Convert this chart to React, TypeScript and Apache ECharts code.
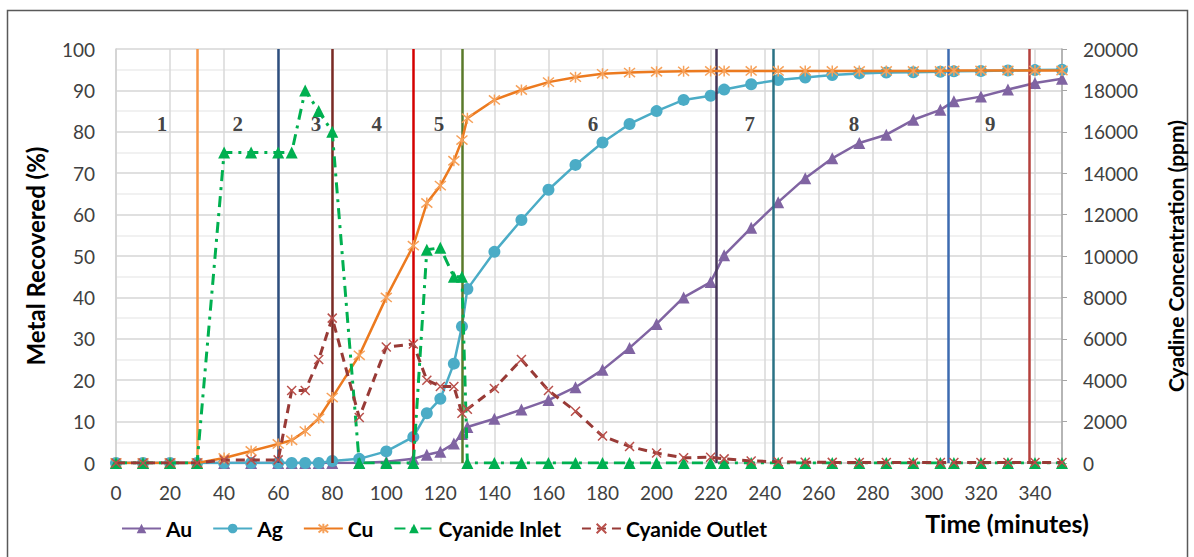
import React, { useEffect, useRef } from "react";
import * as echarts from "echarts";

// Time (minutes)
const time = [0, 10, 20, 30, 40, 50, 60, 65, 70, 75, 80, 90, 100, 110, 115, 120, 125, 128, 130, 140, 150, 160, 170, 180, 190, 200, 210, 220, 225, 235, 245, 255, 265, 275, 285, 295, 305, 310, 320, 330, 340, 350];

// Metal recovered (%)
const au = [0, 0, 0, 0, 0, 0, 0, 0, 0, 0, 0, 0, 0.3, 1, 2, 2.7, 4.7, 7, 8.7, 10.7, 12.9, 15.2, 18.3, 22.5, 27.8, 33.6, 40, 43.7, 50.2, 56.8, 63, 68.8, 73.6, 77.3, 79.3, 82.9, 85.3, 87.4, 88.5, 90.2, 91.8, 92.8];
const ag = [0, 0, 0, 0, 0, 0, 0, 0, 0, 0, 0.5, 1, 2.8, 6.3, 12, 15.5, 24, 33, 42, 51, 58.7, 66, 72, 77.4, 81.9, 85, 87.7, 88.7, 90.2, 91.5, 92.5, 93.1, 93.7, 94.1, 94.3, 94.4, 94.5, 94.6, 94.7, 94.8, 94.9, 95];
const cu = [0, 0, 0, 0, 1.2, 2.9, 4.6, 5.5, 7.7, 10.8, 15.8, 26, 40, 52.5, 62.8, 67, 73, 78, 83.3, 87.7, 90.1, 92, 93.2, 94, 94.3, 94.5, 94.6, 94.7, 94.7, 94.7, 94.7, 94.7, 94.7, 94.7, 94.7, 94.7, 94.7, 94.8, 94.8, 94.8, 94.8, 94.8];

// Cyanide concentration (ppm)
const cyanideInlet = [0, 0, 0, 0, 15000, 15000, 15000, 15000, 18000, 17000, 16000, 0, 0, 0, 10300, 10400, 9000, 9000, 0, 0, 0, 0, 0, 0, 0, 0, 0, 0, 0, 0, 0, 0, 0, 0, 0, 0, 0, 0, 0, 0, 0, 0];
const cyanideOutlet = [0, 0, 0, 0, 150, 150, 150, 3500, 3500, 5000, 7000, 2200, 5600, 5750, 4000, 3700, 3700, 2400, 2600, 3600, 5000, 3500, 2500, 1300, 800, 480, 250, 280, 200, 100, 60, 40, 30, 20, 20, 20, 20, 20, 20, 20, 20, 20];

// Stage boundaries and stage labels
const stageBoundaries = [30, 60, 80, 110, 128, 222, 243, 308, 338];
const stageBoundaryColors = ["#f79646", "#2e4f7f", "#7a2a24", "#d40000", "#5a7a2a", "#463658", "#2a7285", "#3d6bb0", "#b5403d"];
const stageNames = ["1", "2", "3", "4", "5", "6", "7", "8", "9"];
const stageLabelX = [17, 45, 74, 96.5, 119.5, 176.5, 234.5, 273, 323.5];
const stageLabelY = 82;

const xTicks = { min: 0, max: 350, interval: 20 };
const leftTicks = { min: 0, max: 100, interval: 10 };
const rightTicks = { min: 0, max: 20000, interval: 2000 };

const FONT = "Lato, 'Liberation Sans', sans-serif";

const starPath = "path://M0,0L10,10M10,0L0,10M5,-1L5,11";
const crossPath = "path://M0,0L10,10M10,0L0,10";

export default function App() {
  const ref = useRef<HTMLDivElement>(null);

  useEffect(() => {
    if (!ref.current) return;
    const chart = echarts.init(ref.current, undefined, { renderer: "svg" });
    const pair = (arr: number[]) => time.map((t, i) => [t, arr[i]]);

    const option: any = {
      animation: false,
      backgroundColor: "#ffffff",
      grid: { left: 116, right: 126, top: 49, bottom: 94, containLabel: false },
      legend: {
        left: 116,
        top: 513,
        itemWidth: 39,
        itemHeight: 12,
        itemGap: 20,
        textStyle: { fontFamily: FONT, fontWeight: "bold", fontSize: 21, color: "#000" },
        data: ["Au", "Ag", "Cu", "Cyanide Inlet", "Cyanide Outlet"],
      },
      xAxis: {
        type: "value",
        min: xTicks.min,
        max: xTicks.max,
        interval: xTicks.interval,
        axisLine: { show: true, lineStyle: { color: "#d0d0d0", width: 1.5 } },
        axisTick: { show: false },
        axisLabel: { color: "#404040", fontFamily: FONT, fontSize: 19, margin: 20, showMaxLabel: false },
        splitLine: { show: true, lineStyle: { color: "#d9d9d9", width: 1.5 } },
      },
      yAxis: [
        {
          type: "value",
          min: leftTicks.min,
          max: leftTicks.max,
          interval: leftTicks.interval,
          name: "Metal Recovered (%)",
          nameLocation: "middle",
          nameGap: 69,
          nameTextStyle: { fontFamily: FONT, fontWeight: "bold", fontSize: 24, color: "#000" },
          axisLine: { show: true, lineStyle: { color: "#d0d0d0", width: 1.5 } },
          axisTick: { show: false },
          axisLabel: { color: "#404040", fontFamily: FONT, fontSize: 19, margin: 21 },
          splitLine: { show: true, lineStyle: { color: "#d6d6d6", width: 1.5 } },
          minorTick: { show: false, splitNumber: 2 },
          minorSplitLine: { show: true, lineStyle: { color: "#ececec", width: 1.5 } },
        },
        {
          type: "value",
          min: rightTicks.min,
          max: rightTicks.max,
          interval: rightTicks.interval,
          name: "Cyadine Concentration (ppm)",
          nameLocation: "middle",
          nameGap: 103,
          nameRotate: 90,
          nameTextStyle: { fontFamily: FONT, fontWeight: "bold", fontSize: 21, color: "#000" },
          axisLine: { show: true, lineStyle: { color: "#a6a6a6", width: 1.5 } },
          axisTick: { show: true, inside: false, length: 5, lineStyle: { color: "#a6a6a6" } },
          axisLabel: {
            color: "#404040",
            fontFamily: FONT,
            fontSize: 19,
            margin: 21,
            formatter: (v: number) => String(v),
          },
          splitLine: { show: false },
        },
      ],
      graphic: [
        {
          type: "rect",
          shape: { x: 7.5, y: 10.5, width: 1180, height: 560 },
          style: { fill: "none", stroke: "#595959", lineWidth: 1.5 },
          silent: true,
        },
        {
          type: "text",
          x: 1007,
          y: 523,
          style: {
            text: "Time (minutes)",
            fontFamily: FONT,
            fontWeight: "bold",
            fontSize: 25,
            fill: "#000",
            align: "center",
            verticalAlign: "middle",
          },
        },
      ],
      series: [
        {
          name: "stages",
          type: "scatter",
          yAxisIndex: 0,
          symbol: "circle",
          symbolSize: 1,
          itemStyle: { color: "transparent" },
          data: stageLabelX.map((x, i) => ({ value: [x, stageLabelY], name: stageNames[i] })),
          label: {
            show: true,
            position: "inside",
            formatter: (p: any) => p.name,
            fontFamily: "'Liberation Serif', 'DejaVu Serif', serif",
            fontWeight: "bold",
            fontSize: 21,
            color: "#111",
          },
          z: 1,
          markLine: {
            silent: true,
            symbol: "none",
            label: { show: false },
            data: stageBoundaries.map((x, i) => ({
              xAxis: x,
              lineStyle: { color: stageBoundaryColors[i], width: 2.5, type: "solid" },
            })),
          },
        },
        {
          name: "Au",
          type: "line",
          yAxisIndex: 0,
          data: pair(au),
          symbol: "triangle",
          symbolSize: 12,
          lineStyle: { color: "#8064a2", width: 2.5 },
          itemStyle: { color: "#8064a2" },
          z: 3,
        },
        {
          name: "Ag",
          type: "line",
          yAxisIndex: 0,
          data: pair(ag),
          symbol: "circle",
          symbolSize: 12,
          lineStyle: { color: "#4bacc6", width: 2.5 },
          itemStyle: { color: "#4bacc6" },
          z: 4,
        },
        {
          name: "Cu",
          type: "line",
          yAxisIndex: 0,
          data: pair(cu),
          symbol: starPath,
          symbolSize: 11,
          lineStyle: { color: "#ec7a1f", width: 2.5 },
          itemStyle: { color: "none", borderColor: "#f6a15a", borderWidth: 1.5 },
          z: 5,
        },
        {
          name: "Cyanide Inlet",
          type: "line",
          yAxisIndex: 1,
          data: pair(cyanideInlet),
          symbol: "triangle",
          symbolSize: 12,
          lineStyle: { color: "#00b050", width: 3, type: [11, 6, 3, 6] },
          itemStyle: { color: "#00b050" },
          z: 6,
        },
        {
          name: "Cyanide Outlet",
          type: "line",
          yAxisIndex: 1,
          data: pair(cyanideOutlet),
          symbol: crossPath,
          symbolSize: 9,
          lineStyle: { color: "#983a36", width: 3, type: [9, 6] },
          itemStyle: { color: "none", borderColor: "#b9504b", borderWidth: 1.5 },
          z: 7,
        },
      ],
    };

    chart.setOption(option);
    return () => chart.dispose();
  }, []);

  return (
    <div
      ref={ref}
      style={{ position: "absolute", left: 0, top: 0, width: 1194, height: 557 }}
    />
  );
}
